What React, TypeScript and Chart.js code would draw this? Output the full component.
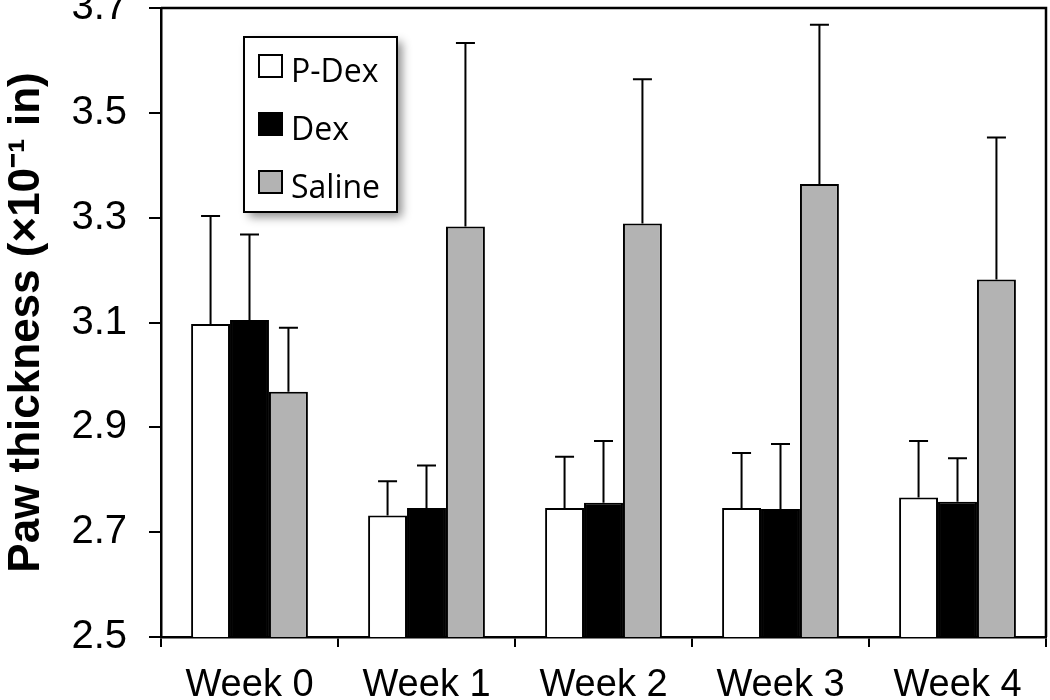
import React, { useEffect, useRef } from "react";
import { Chart, registerables } from "chart.js";

Chart.register(...registerables);

const categories = ["Week 0", "Week 1", "Week 2", "Week 3", "Week 4"];
const seriesNames = ["P-Dex", "Dex", "Saline"];
const pdexMean = [3.097, 2.732, 2.746, 2.746, 2.766];
const pdexErr = [0.206, 0.065, 0.098, 0.105, 0.108];
const dexMean = [3.105, 2.746, 2.756, 2.744, 2.758];
const dexErr = [0.163, 0.081, 0.118, 0.124, 0.083];
const salineMean = [2.968, 3.283, 3.289, 3.364, 3.182];
const salineErr = [0.122, 0.35, 0.275, 0.304, 0.271];
const yTicks = [2.5, 2.7, 2.9, 3.1, 3.3, 3.5, 3.7];
const yTitle = "Paw thickness (×10⁻¹ in)";

const errorsBySeries = [pdexErr, dexErr, salineErr];

const errorBarPlugin = {
  id: "errorBars",
  afterDatasetsDraw(chart: any) {
    const ctx = chart.ctx;
    const yScale = chart.scales.y;
    ctx.save();
    ctx.strokeStyle = "#000";
    ctx.lineWidth = 2;
    chart.data.datasets.forEach((ds: any, di: number) => {
      const meta = chart.getDatasetMeta(di);
      meta.data.forEach((bar: any, i: number) => {
        const v = ds.data[i];
        const e = errorsBySeries[di][i];
        const yTop = yScale.getPixelForValue(v + e);
        const yBar = yScale.getPixelForValue(v);
        ctx.beginPath();
        ctx.moveTo(bar.x, yBar);
        ctx.lineTo(bar.x, yTop);
        ctx.moveTo(bar.x - 9.5, yTop);
        ctx.lineTo(bar.x + 9.5, yTop);
        ctx.stroke();
      });
    });
    ctx.restore();
  },
};

const frameAndLegendPlugin = {
  id: "frameLegend",
  afterDraw(chart: any) {
    const ctx = chart.ctx;
    const a = chart.chartArea;
    ctx.save();
    ctx.strokeStyle = "#000";
    ctx.lineWidth = 2.5;
    ctx.beginPath();
    ctx.moveTo(a.left, a.top);
    ctx.lineTo(a.right, a.top);
    ctx.lineTo(a.right, a.bottom);
    ctx.stroke();

    const bx = a.left + 83;
    const by = a.top + 29;
    const bw = 153;
    const bh = 175;
    ctx.save();
    ctx.shadowColor = "rgba(0,0,0,0.45)";
    ctx.shadowBlur = 9;
    ctx.shadowOffsetX = 5;
    ctx.shadowOffsetY = 5;
    ctx.fillStyle = "#fff";
    ctx.fillRect(bx, by, bw, bh);
    ctx.restore();
    ctx.strokeStyle = "#000";
    ctx.lineWidth = 2;
    ctx.strokeRect(bx, by, bw, bh);

    ctx.font = '32px "Open Sans"';
    ctx.textBaseline = "alphabetic";
    ctx.textAlign = "left";
    chart.data.datasets.forEach((ds: any, di: number) => {
      const cy = by + 29 + di * 58;
      ctx.fillStyle = ds.backgroundColor;
      ctx.fillRect(bx + 15, cy - 11, 23, 22);
      ctx.strokeStyle = "#000";
      ctx.lineWidth = 2;
      ctx.strokeRect(bx + 15, cy - 11, 23, 22);
      ctx.fillStyle = "#000";
      ctx.fillText(ds.label, bx + 47, cy + 16);
    });
    ctx.restore();
  },
};

export default function App() {
  const ref = useRef<HTMLCanvasElement>(null);
  useEffect(() => {
    if (!ref.current) return;
    const chart = new Chart(ref.current, {
      type: "bar",
      data: {
        labels: categories,
        datasets: [
          { label: seriesNames[0], data: pdexMean, backgroundColor: "#ffffff" },
          { label: seriesNames[1], data: dexMean, backgroundColor: "#000000" },
          { label: seriesNames[2], data: salineMean, backgroundColor: "#b3b3b3" },
        ].map((d) => ({
          ...d,
          borderColor: "#000",
          borderWidth: 2,
          borderSkipped: false,
          categoryPercentage: 0.66,
          barPercentage: 1,
        })),
      },
      options: {
        responsive: false,
        animation: false,
        devicePixelRatio: 1,
        layout: { padding: { top: 8, right: 4, left: 0, bottom: 0 } },
        plugins: { legend: { display: false }, tooltip: { enabled: false } },
        scales: {
          x: {
            grid: {
              display: true,
              drawOnChartArea: false,
              drawTicks: true,
              tickLength: 10,
              color: "#000",
              lineWidth: 2,
              offset: true,
            },
            border: { display: true, color: "#000", width: 2.5 },
            ticks: {
              color: "#000",
              font: { family: '"Liberation Sans", Arial', size: 38 },
              padding: 16,
              maxRotation: 0,
            },
            afterFit: (s: any) => {
              s.height = 63;
              s.paddingLeft = 0;
              s.paddingRight = 0;
            },
          },
          y: {
            min: 2.5,
            max: 3.7,
            afterBuildTicks: (s: any) => {
              s.ticks = yTicks.map((v) => ({ value: v }));
            },
            grid: {
              display: true,
              drawOnChartArea: false,
              drawTicks: true,
              tickLength: 12,
              color: "#000",
              lineWidth: 2,
            },
            border: { display: true, color: "#000", width: 2.5 },
            ticks: {
              color: "#000",
              font: { family: '"Liberation Sans", Arial', size: 40 },
              padding: 22,
              callback: (v: any) => Number(v).toFixed(1),
            },
            title: {
              display: true,
              text: yTitle,
              color: "#000",
              font: { family: '"Liberation Sans", Arial', size: 44, weight: "bold" },
              padding: { top: 0, bottom: 0 },
            },
            afterFit: (s: any) => {
              s.width = 161;
              s.paddingTop = 0;
              s.paddingBottom = 0;
            },
          },
        },
      },
      plugins: [errorBarPlugin, frameAndLegendPlugin],
    });
    return () => chart.destroy();
  }, []);
  return (
    <div style={{ position: "absolute", left: 0, top: 0, width: 1050, height: 700, background: "#fff" }}>
      <canvas ref={ref} width={1050} height={700} />
    </div>
  );
}
